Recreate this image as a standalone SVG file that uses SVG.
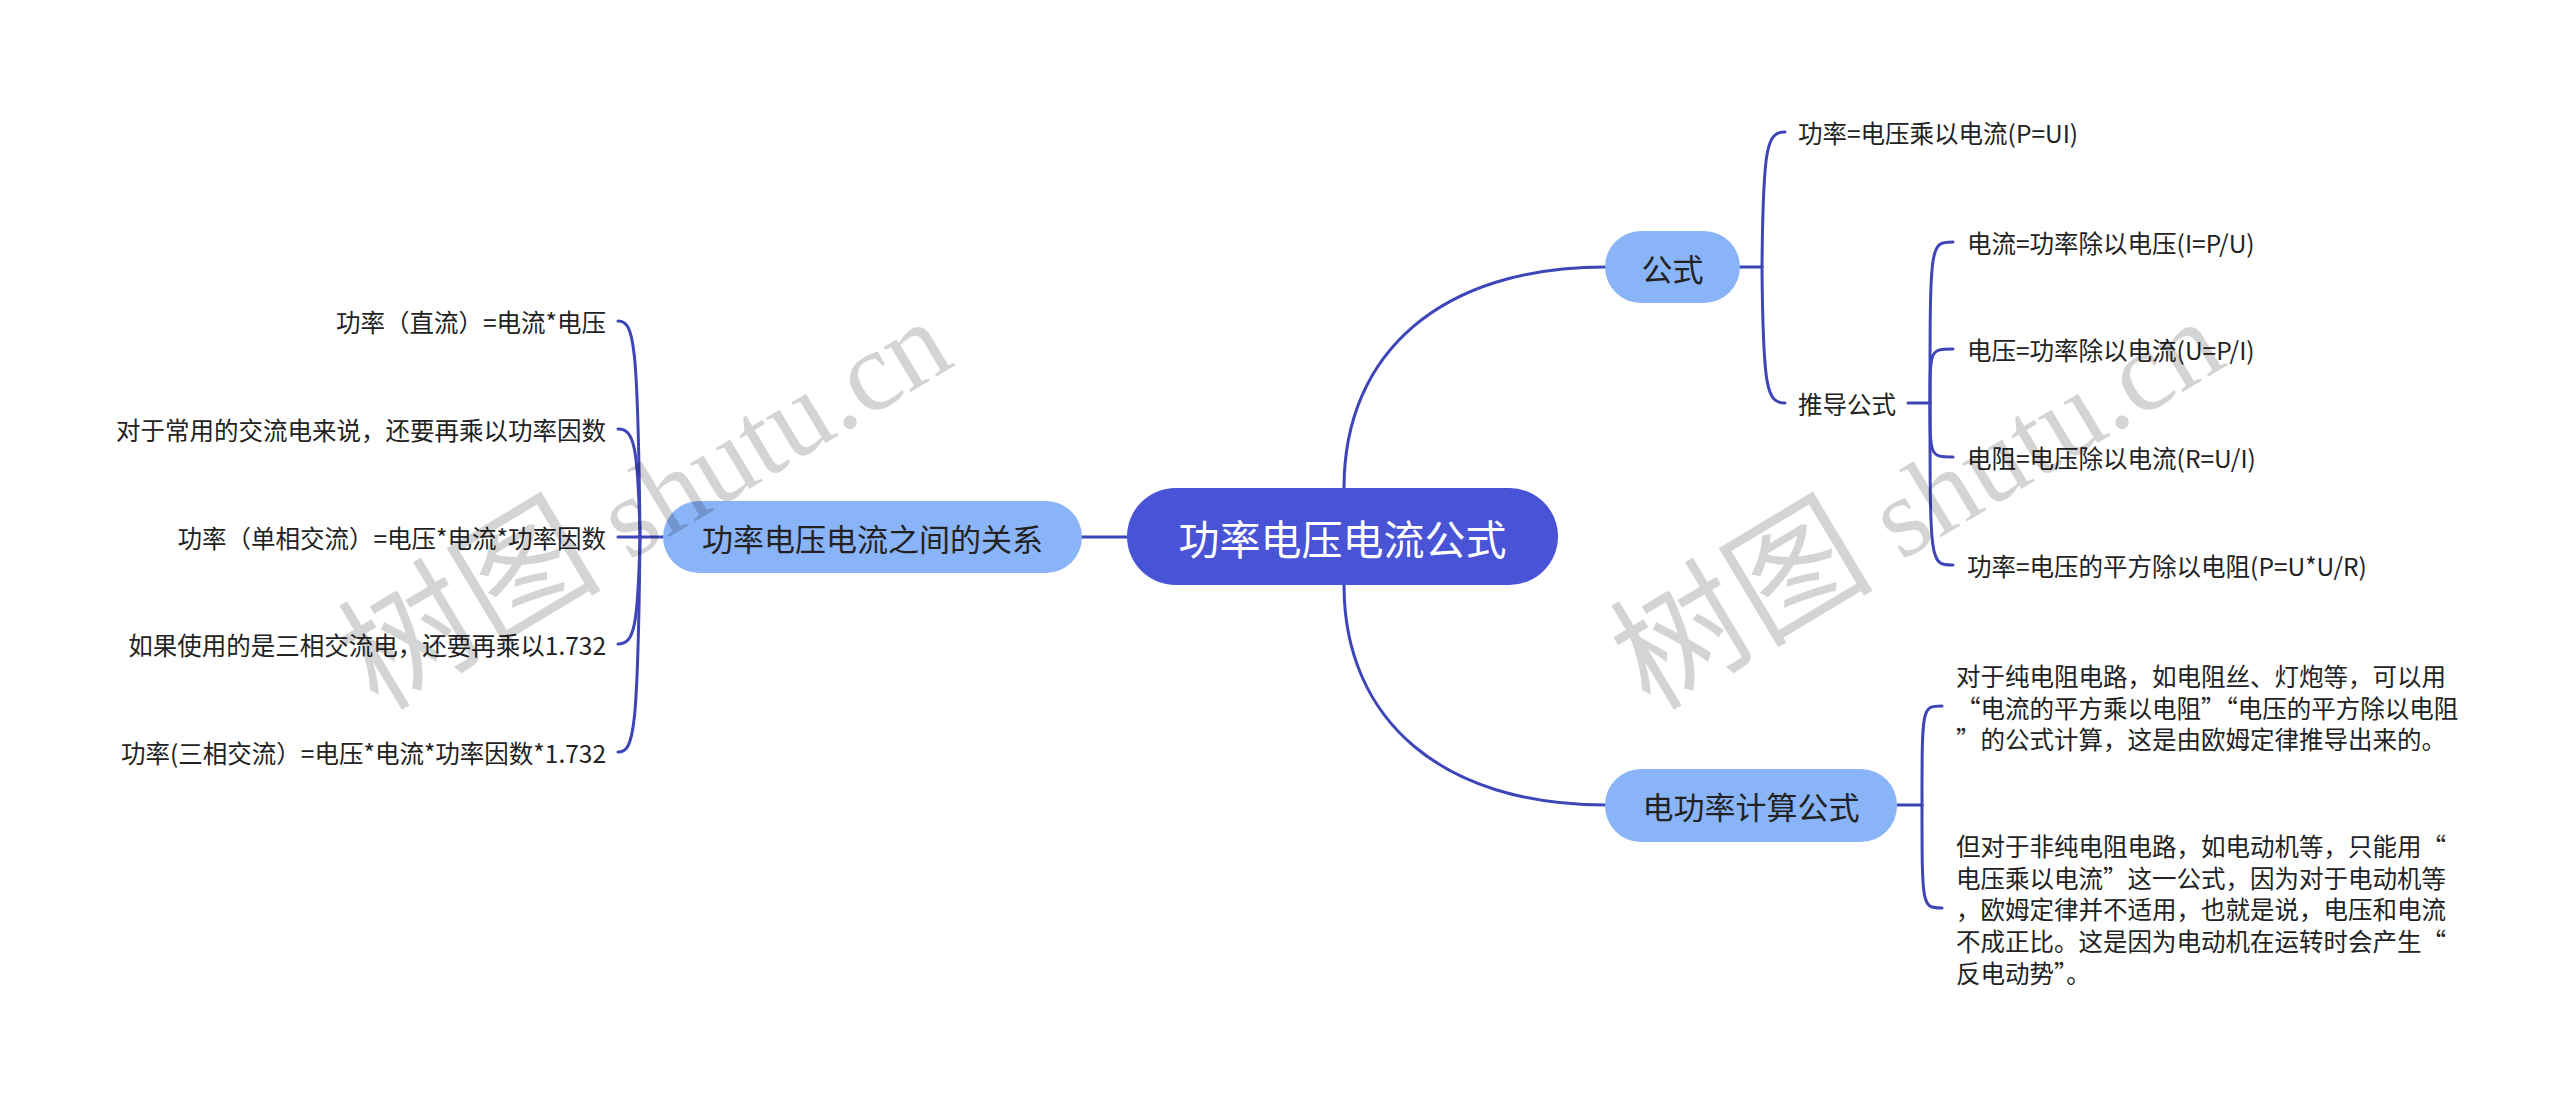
<svg xmlns="http://www.w3.org/2000/svg" width="2560" height="1102" viewBox="0 0 2560 1102">
<style>
.t{font-family:"Noto Sans CJK SC","Noto Sans",sans-serif;fill:#222;dominant-baseline:central}
.leaf{font-size:24.5px}
.sub{font-size:31px;text-anchor:middle}
.root{font-size:41px;text-anchor:middle;fill:#fff}
.end{text-anchor:end}
.c{fill:none;stroke:#3d45b8;stroke-width:3;stroke-linecap:round}
.n2{fill:#8ab4f8}
.wm{font-family:"Liberation Serif","Noto Sans CJK SC",serif;font-size:114px;fill:#000;fill-opacity:0.17}
.wm .cjk{font-size:132px}
</style>
<rect width="2560" height="1102" fill="#fff"/>
<g id="connectors">
<path class="c" d="M1127 537 L1082 537"/>
<path class="c" d="M1344 488 C1344 351 1443 267 1605 267"/>
<path class="c" d="M1344 585 C1344 721 1443 805 1605 805"/>
<path class="c" d="M663 537 L640 537"/>
<path class="c" d="M640 537 C638 340 634 321 618 321"/>
<path class="c" d="M640 537 C638 445 634 429 618 429"/>
<path class="c" d="M640 537 L618 537"/>
<path class="c" d="M640 537 C638 628 634 644 618 644"/>
<path class="c" d="M640 537 C638 733 634 752 618 752"/>
<path class="c" d="M1740 267 L1762 267"/>
<path class="c" d="M1762 267 C1763 145 1767 132 1785 132"/>
<path class="c" d="M1762 267 C1763 390 1767 403 1785 403"/>
<path class="c" d="M1908 403 L1930 403"/>
<path class="c" d="M1930 403 C1930 242 1930 242 1953 242"/>
<path class="c" d="M1930 403 C1930 349 1930 349 1953 349"/>
<path class="c" d="M1930 403 C1930 457 1930 457 1953 457"/>
<path class="c" d="M1930 403 C1930 565 1930 565 1953 565"/>
<path class="c" d="M1897 805 L1922 805"/>
<path class="c" d="M1922 805 C1922 706 1922 706 1942 706"/>
<path class="c" d="M1922 805 C1922 908 1922 908 1942 908"/>
</g>
<g id="root">
<rect x="1127" y="488" width="431" height="97" rx="48.5" fill="#4953d6"/>
<text class="t root" x="1342.5" y="537">功率电压电流公式</text>
</g>
<g id="n-relation">
<rect class="n2" x="663" y="501" width="419" height="72" rx="36"/>
<text class="t sub" x="872.5" y="537">功率电压电流之间的关系</text>
</g>
<g id="n-formula">
<rect class="n2" x="1605" y="231" width="135" height="72" rx="36"/>
<text class="t sub" x="1672.5" y="267">公式</text>
</g>
<g id="n-calc">
<rect class="n2" x="1605" y="769" width="292" height="73" rx="36"/>
<text class="t sub" x="1751" y="805.5">电功率计算公式</text>
</g>
<g id="l-dc"><text class="t leaf end" x="606" y="321">功率（直流）=电流*电压</text></g>
<g id="l-ac"><text class="t leaf end" x="606" y="429">对于常用的交流电来说，还要再乘以功率因数</text></g>
<g id="l-single"><text class="t leaf end" x="606" y="537">功率（单相交流）=电压*电流*功率因数</text></g>
<g id="l-three"><text class="t leaf end" x="606" y="644">如果使用的是三相交流电，还要再乘以1.732</text></g>
<g id="l-threeformula"><text class="t leaf end" x="606" y="752">功率(三相交流）=电压*电流*功率因数*1.732</text></g>
<g id="r-pui"><text class="t leaf" x="1798" y="132">功率=电压乘以电流(P=UI)</text></g>
<g id="r-derive"><text class="t leaf" x="1798" y="403">推导公式</text></g>
<g id="r-i"><text class="t leaf" x="1967" y="242">电流=功率除以电压(I=P/U)</text></g>
<g id="r-u"><text class="t leaf" x="1967" y="349">电压=功率除以电流(U=P/I)</text></g>
<g id="r-r"><text class="t leaf" x="1967" y="457">电阻=电压除以电流(R=U/I)</text></g>
<g id="r-p"><text class="t leaf" x="1967" y="565">功率=电压的平方除以电阻(P=U*U/R)</text></g>
<g id="r-para1">
<text class="t leaf" x="1956" y="675">对于纯电阻电路，如电阻丝、灯炮等，可以用</text>
<text class="t leaf" x="1956" y="707">“电流的平方乘以电阻”“电压的平方除以电阻</text>
<text class="t leaf" x="1956" y="738">”的公式计算，这是由欧姆定律推导出来的。</text>
</g>
<g id="r-para2">
<text class="t leaf" x="1956" y="845">但对于非纯电阻电路，如电动机等，只能用“</text>
<text class="t leaf" x="1956" y="877">电压乘以电流”这一公式，因为对于电动机等</text>
<text class="t leaf" x="1956" y="908">，欧姆定律并不适用，也就是说，电压和电流</text>
<text class="t leaf" x="1956" y="940">不成正比。这是因为电动机在运转时会产生“</text>
<text class="t leaf" x="1956" y="972">反电动势”。</text>
</g>
<g id="watermark">
<text class="wm" transform="translate(378 712) rotate(-31)"><tspan class="cjk">树图</tspan> shutu.cn</text>
<text class="wm" transform="translate(1650 712) rotate(-31)"><tspan class="cjk">树图</tspan> shutu.cn</text>
</g>
</svg>
